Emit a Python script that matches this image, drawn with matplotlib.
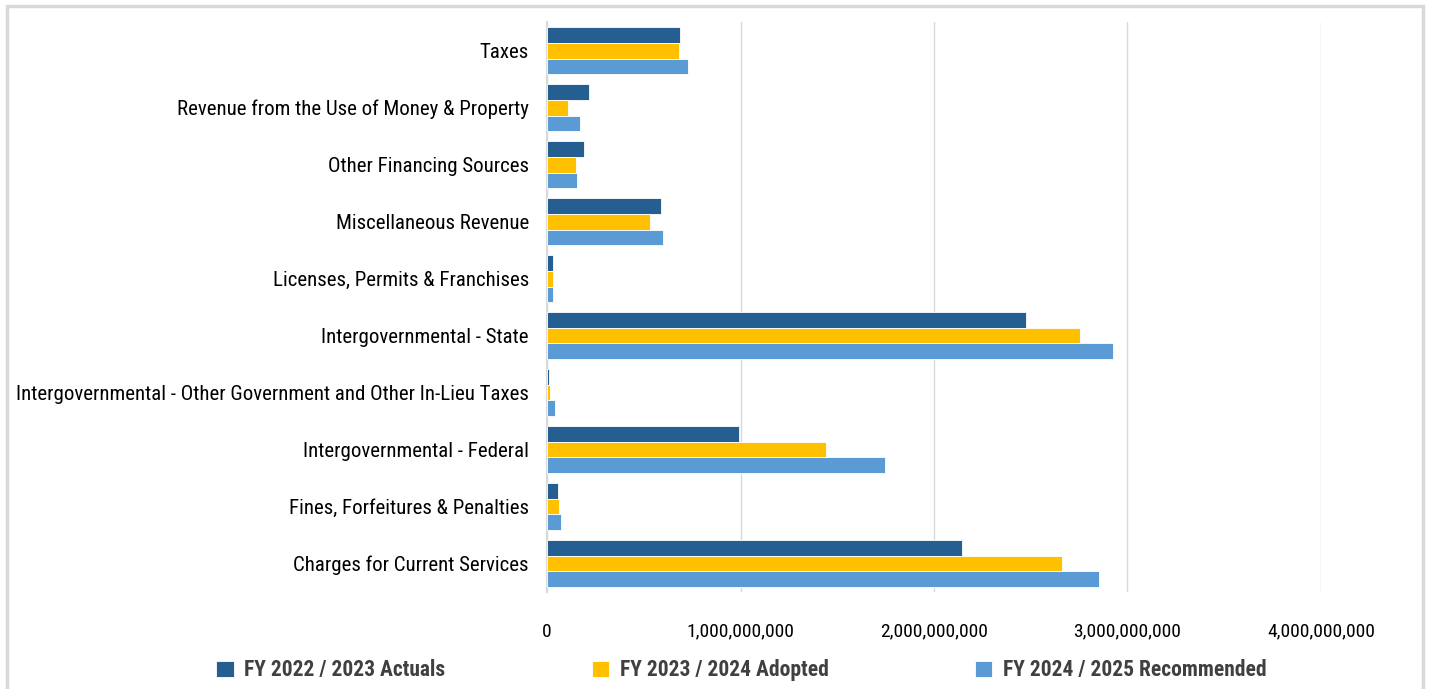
import numpy as np
import matplotlib
matplotlib.use("Agg")
import matplotlib.pyplot as plt
from matplotlib import font_manager
from matplotlib.patches import Rectangle

# data (top to bottom as shown)
categories = ["Taxes",
              "Revenue from the Use of Money & Property",
              "Other Financing Sources",
              "Miscellaneous Revenue",
              "Licenses, Permits & Franchises",
              "Intergovernmental - State",
              "Intergovernmental - Other Government and Other In-Lieu Taxes",
              "Intergovernmental - Federal",
              "Fines, Forfeitures & Penalties",
              "Charges for Current Services"]
actuals_2223 = [687e6, 217e6, 191e6, 589e6, 31e6, 2475e6, 10e6, 992e6, 57e6, 2145e6]
adopted_2324 = [682e6, 108e6, 150e6, 532e6, 31e6, 2755e6, 15e6, 1442e6, 62e6, 2661e6]
recommended_2425 = [729e6, 171e6, 155e6, 600e6, 31e6, 2925e6, 41e6, 1747e6, 72e6, 2853e6]
series_names = ["FY 2022 / 2023 Actuals", "FY 2023 / 2024 Adopted", "FY 2024 / 2025 Recommended"]
colors = ["#255E91", "#FFC000", "#5B9BD5"]

def pick_font(names):
    for n in names:
        try:
            font_manager.findfont(n, fallback_to_default=False)
            return n
        except Exception:
            pass
    return "DejaVu Sans"

font = pick_font(["Roboto Condensed", "Open Sans Condensed", "Asap Condensed",
                  "Archivo Narrow", "Liberation Sans Narrow", "DejaVu Sans"])
plt.rcParams['font.family'] = [font, 'DejaVu Sans']

fig = plt.figure(figsize=(14.29, 6.89), dpi=100)
ax = fig.add_axes([0.3828, 0.1408, 0.5416, 0.8272])

y = np.arange(len(categories))
h = 0.28
for i, vals in enumerate([actuals_2223, adopted_2324, recommended_2425]):
    ax.barh(y + (i - 1) * h, vals, height=h, color=colors[i], edgecolor="white",
            linewidth=0.6, label=series_names[i], zorder=3)

ax.set_ylim(len(categories) - 0.5, -0.5)
ax.set_xlim(0, 4e9)
ax.set_xticks([0, 1e9, 2e9, 3e9, 4e9])
ax.set_xticklabels(["0", "1,000,000,000", "2,000,000,000", "3,000,000,000", "4,000,000,000"],
                   fontsize=14, color="black")
ax.set_yticks(y)
ax.set_yticklabels(categories, fontsize=15, color="black")
ax.tick_params(axis="both", length=0)
ax.tick_params(axis="y", pad=13)
ax.tick_params(axis="x", pad=22)
ax.grid(axis="x", color="#D9D9D9", linewidth=1, zorder=0)
for s in ["top", "right", "bottom"]:
    ax.spines[s].set_visible(False)
ax.spines["left"].set_color("#D9D9D9")
ax.spines["left"].set_linewidth(1.5)

leg = fig.legend(loc="center", bbox_to_anchor=(0.519, 0.027), ncol=3, frameon=False,
                 handlelength=0.8, handleheight=0.8, handletextpad=0.5, columnspacing=6.8,
                 prop={"size": 15.5, "weight": "bold"})
for t in leg.get_texts():
    t.set_color("#404040")

fig.patches.append(Rectangle((7 / 1429, -0.05), 1416 / 1429, 1.05 - 6 / 689,
                             transform=fig.transFigure, fill=False,
                             edgecolor="#D9D9D9", linewidth=2.5))

fig.savefig("out.png", dpi=100)
